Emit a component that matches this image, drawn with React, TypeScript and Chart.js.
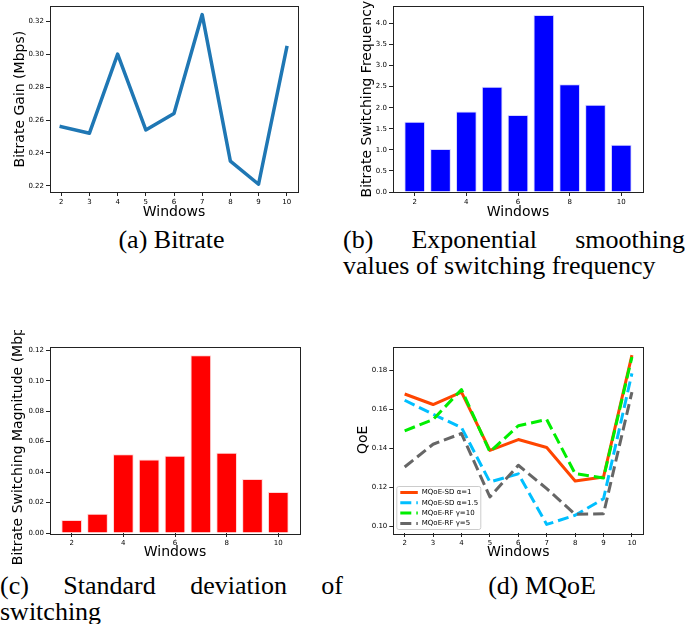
import React, { useEffect, useRef } from 'react';
import { Chart, registerables } from 'chart.js';

Chart.register(...registerables);
Chart.defaults.font.family = '"DejaVu Sans", sans-serif';

// ---------------- data ----------------
const windows = [2, 3, 4, 5, 6, 7, 8, 9, 10];
const bitrateGain = [0.256, 0.252, 0.3, 0.254, 0.264, 0.324, 0.235, 0.221, 0.304];
const switchFreq = [1.67, 1.02, 1.91, 2.5, 1.83, 4.2, 2.56, 2.07, 1.12];
const switchMag = [0.0086, 0.0127, 0.0518, 0.0483, 0.0507, 0.1167, 0.0527, 0.0355, 0.027];
const qoeSD1 = [0.168, 0.1626, 0.169, 0.139, 0.1446, 0.1405, 0.1233, 0.1254, 0.188];
const qoeSD15 = [0.1648, 0.1576, 0.1508, 0.1228, 0.127, 0.101, 0.1057, 0.1142, 0.1786];
const qoeRF10 = [0.1491, 0.1549, 0.1703, 0.1383, 0.1517, 0.1549, 0.1271, 0.1249, 0.187];
const qoeRF5 = [0.1305, 0.1422, 0.1477, 0.1151, 0.1314, 0.1194, 0.1062, 0.1065, 0.169];
const qoeLabels = ['MQoE-SD α=1', 'MQoE-SD α=1.5', 'MQoE-RF γ=10', 'MQoE-RF γ=5'];

const xTicksAll = [2, 3, 4, 5, 6, 7, 8, 9, 10];
const xTicksEven = [2, 4, 6, 8, 10];
const yTicksA = [0.22, 0.24, 0.26, 0.28, 0.3, 0.32];
const yTicksB = [0, 0.5, 1, 1.5, 2, 2.5, 3, 3.5, 4];
const yTicksC = [0, 0.02, 0.04, 0.06, 0.08, 0.1, 0.12];
const yTicksD = [0.1, 0.12, 0.14, 0.16, 0.18];

const xTitle = 'Windows';
const yTitleA = 'Bitrate Gain (Mbps)';
const yTitleB = 'Bitrate Switching Frequency';
const yTitleC = 'Bitrate Switching Magnitude (Mbps)';
const yTitleD = 'QoE';

const captionA = '(a) Bitrate';
const captionB1 = ['(b)', 'Exponential', 'smoothing'];
const captionB2 = 'values of switching frequency';
const captionC1 = ['(c)', 'Standard', 'deviation', 'of'];
const captionC2 = 'switching';
const captionD = '(d) MQoE';

// ---------------- helpers ----------------
const pts = (ys: number[]) => windows.map((x, i) => ({ x, y: ys[i] }));

const framePlugin = {
  id: 'frame',
  afterDraw(chart: any) {
    const { ctx, chartArea: a } = chart;
    ctx.save();
    ctx.strokeStyle = '#222';
    ctx.lineWidth = 1;
    ctx.strokeRect(Math.round(a.left) + 0.5, Math.round(a.top) + 0.5, Math.round(a.right - a.left), Math.round(a.bottom - a.top));
    ctx.restore();
  },
};

const qoeLegendPlugin = {
  id: 'qoeLegend',
  afterDraw(chart: any) {
    const { ctx, chartArea: a } = chart;
    const w = 84;
    const h = 43;
    const x0 = a.left + 3.5;
    const y0 = a.bottom - 3.5 - h;
    ctx.save();
    ctx.beginPath();
    const r = 2;
    ctx.moveTo(x0 + r, y0);
    ctx.lineTo(x0 + w - r, y0);
    ctx.quadraticCurveTo(x0 + w, y0, x0 + w, y0 + r);
    ctx.lineTo(x0 + w, y0 + h - r);
    ctx.quadraticCurveTo(x0 + w, y0 + h, x0 + w - r, y0 + h);
    ctx.lineTo(x0 + r, y0 + h);
    ctx.quadraticCurveTo(x0, y0 + h, x0, y0 + h - r);
    ctx.lineTo(x0, y0 + r);
    ctx.quadraticCurveTo(x0, y0, x0 + r, y0);
    ctx.closePath();
    ctx.fillStyle = 'rgba(255,255,255,0.8)';
    ctx.fill();
    ctx.strokeStyle = '#cccccc';
    ctx.lineWidth = 1;
    ctx.stroke();
    chart.data.datasets.forEach((ds: any, i: number) => {
      const cy = y0 + 6 + i * 10.3;
      ctx.beginPath();
      ctx.setLineDash(ds.borderDash || []);
      ctx.lineWidth = ds.borderWidth;
      ctx.strokeStyle = ds.borderColor;
      ctx.lineCap = 'butt';
      ctx.moveTo(x0 + 3.5, cy);
      ctx.lineTo(x0 + 21, cy);
      ctx.stroke();
      ctx.setLineDash([]);
      ctx.fillStyle = '#000';
      ctx.font = '7px "DejaVu Sans"';
      ctx.textBaseline = 'middle';
      ctx.textAlign = 'left';
      ctx.fillText(ds.label, x0 + 25, cy);
    });
    ctx.restore();
  },
};

type Geo = { padL: number; padT: number; padR: number; padB: number; yW: number; xH: number };

function scales(
  geo: Geo,
  xr: [number, number],
  yr: [number, number],
  xt: number[],
  yt: number[],
  yDec: number,
  yTitle: string
) {
  const tickFont = { size: 7, family: '"DejaVu Sans"' };
  const titleFont = { size: 14, family: '"DejaVu Sans"', lineHeight: 1.2 };
  const grid = { display: true, drawOnChartArea: false, drawTicks: true, tickLength: 4, color: '#222', offset: false };
  return {
    x: {
      type: 'linear',
      min: xr[0],
      max: xr[1],
      offset: false,
      grid,
      border: { display: false },
      ticks: { font: tickFont, color: '#000', padding: 2, autoSkip: false, maxRotation: 0, callback: (v: number) => String(v) },
      afterBuildTicks: (s: any) => {
        s.ticks = xt.map((v) => ({ value: v }));
      },
      afterFit: (s: any) => {
        s.height = geo.xH;
      },
      title: { display: true, text: xTitle, font: titleFont, color: '#000', padding: 0 },
    },
    y: {
      type: 'linear',
      min: yr[0],
      max: yr[1],
      grid,
      border: { display: false },
      ticks: { font: tickFont, color: '#000', padding: 2, autoSkip: false, callback: (v: number) => v.toFixed(yDec) },
      afterBuildTicks: (s: any) => {
        s.ticks = yt.map((v) => ({ value: v }));
      },
      afterFit: (s: any) => {
        s.width = geo.yW;
      },
      title: { display: true, text: yTitle, font: titleFont, color: '#000', padding: 0 },
    },
  };
}

function baseOptions(geo: Geo, sc: any) {
  return {
    responsive: false,
    animation: false,
    events: [],
    devicePixelRatio: 1,
    layout: { padding: { left: geo.padL, top: geo.padT, right: geo.padR, bottom: geo.padB } },
    plugins: { legend: { display: false }, tooltip: { enabled: false } },
    scales: sc,
  };
}

const geoA: Geo = { padL: 11.6, padT: 5, padR: 7, padB: 4.6, yW: 38.4, xH: 28.4 };
const geoB: Geo = { padL: 18.6, padT: 5, padR: 42, padB: 4.6, yW: 34.4, xH: 28.4 };
const geoC: Geo = { padL: 10.1, padT: 16.5, padR: 5, padB: 5.6, yW: 39.9, xH: 27.4 };
const geoD: Geo = { padL: 15.1, padT: 16.5, padR: 41.7, padB: 5.6, yW: 38.2, xH: 27.4 };

const configA = () => ({
  type: 'line',
  data: {
    datasets: [
      {
        label: 'Bitrate',
        data: pts(bitrateGain),
        borderColor: '#1f77b4',
        borderWidth: 3.5,
        pointRadius: 0,
        tension: 0,
        fill: false,
        borderJoinStyle: 'round',
        borderCapStyle: 'square',
      },
    ],
  },
  options: baseOptions(geoA, scales(geoA, [1.6, 10.4], [0.2163, 0.3291], xTicksAll, yTicksA, 2, yTitleA)),
  plugins: [framePlugin],
});

const configB = () => ({
  type: 'bar',
  data: {
    datasets: [
      {
        label: 'Frequency',
        data: pts(switchFreq),
        backgroundColor: '#0000ff',
        borderColor: 'rgba(210,210,255,0.9)',
        borderWidth: 1,
        borderSkipped: 'bottom',
        barPercentage: 0.8,
        categoryPercentage: 1,
      },
    ],
  },
  options: baseOptions(geoB, scales(geoB, [1.16, 10.84], [0, 4.41], xTicksEven, yTicksB, 1, yTitleB)),
  plugins: [framePlugin],
});

const configC = () => ({
  type: 'bar',
  data: {
    datasets: [
      {
        label: 'Magnitude',
        data: pts(switchMag),
        backgroundColor: '#ff0000',
        borderColor: 'rgba(255,210,210,0.9)',
        borderWidth: 1,
        borderSkipped: 'bottom',
        barPercentage: 0.8,
        categoryPercentage: 1,
      },
    ],
  },
  options: baseOptions(geoC, scales(geoC, [1.16, 10.84], [0, 0.1225], xTicksEven, yTicksC, 2, yTitleC)),
  plugins: [framePlugin],
});

const lineDs = (label: string, ys: number[], color: string, dash: number[], order: number) => ({
  label,
  data: pts(ys),
  borderColor: color,
  backgroundColor: color,
  borderWidth: 3,
  borderDash: dash,
  pointRadius: 0,
  tension: 0,
  fill: false,
  order,
  borderJoinStyle: 'round',
});

const configD = () => ({
  type: 'line',
  data: {
    datasets: [
      lineDs(qoeLabels[0], qoeSD1, '#ff4500', [], 4),
      lineDs(qoeLabels[1], qoeSD15, '#00bfff', [11, 5], 3),
      lineDs(qoeLabels[2], qoeRF10, '#00ee00', [11, 5], 2),
      lineDs(qoeLabels[3], qoeRF5, '#666666', [11, 5], 1),
    ],
  },
  options: baseOptions(geoD, scales(geoD, [1.6, 10.4], [0.0966, 0.1924], xTicksAll, yTicksD, 2, yTitleD)),
  plugins: [framePlugin, qoeLegendPlugin],
});

function ChartBox({ make, left, top, width, height }: { make: () => any; left: number; top: number; width: number; height: number }) {
  const ref = useRef<HTMLCanvasElement>(null);
  useEffect(() => {
    const chart = new Chart(ref.current as HTMLCanvasElement, make());
    return () => chart.destroy();
  }, []);
  return (
    <canvas
      ref={ref}
      width={width}
      height={height}
      style={{ position: 'absolute', left, top, width, height, display: 'block' }}
    />
  );
}

const capStyle: React.CSSProperties = {
  position: 'absolute',
  fontFamily: '"Liberation Serif", "Times New Roman", serif',
  fontSize: 26,
  lineHeight: '26px',
  color: '#000',
  whiteSpace: 'nowrap',
};

export default function App() {
  return (
    <div
      style={{
        position: 'absolute',
        left: 0,
        top: 0,
        width: 685,
        height: 624,
        background: '#fff',
        overflow: 'hidden',
      }}
    >
      <ChartBox make={configA} left={0} top={0} width={305} height={225} />
      <ChartBox make={configB} left={340} top={0} width={345} height={225} />
      <ChartBox make={configC} left={0} top={330} width={305} height={236} />
      <ChartBox make={configD} left={340} top={330} width={345} height={236} />

      <div style={{ ...capStyle, left: 0, top: 227, width: 343, textAlign: 'center' }}>{captionA}</div>
      <div style={{ ...capStyle, left: 343, top: 227, width: 342 }}>
        <div style={{ display: 'flex', justifyContent: 'space-between' }}>
          {captionB1.map((w) => (
            <span key={w}>{w}</span>
          ))}
        </div>
        <div>{captionB2}</div>
      </div>
      <div style={{ ...capStyle, left: 0, top: 573, width: 343 }}>
        <div style={{ display: 'flex', justifyContent: 'space-between' }}>
          {captionC1.map((w) => (
            <span key={w}>{w}</span>
          ))}
        </div>
        <div>{captionC2}</div>
      </div>
      <div style={{ ...capStyle, left: 442, top: 573, width: 200, textAlign: 'center' }}>{captionD}</div>
    </div>
  );
}
